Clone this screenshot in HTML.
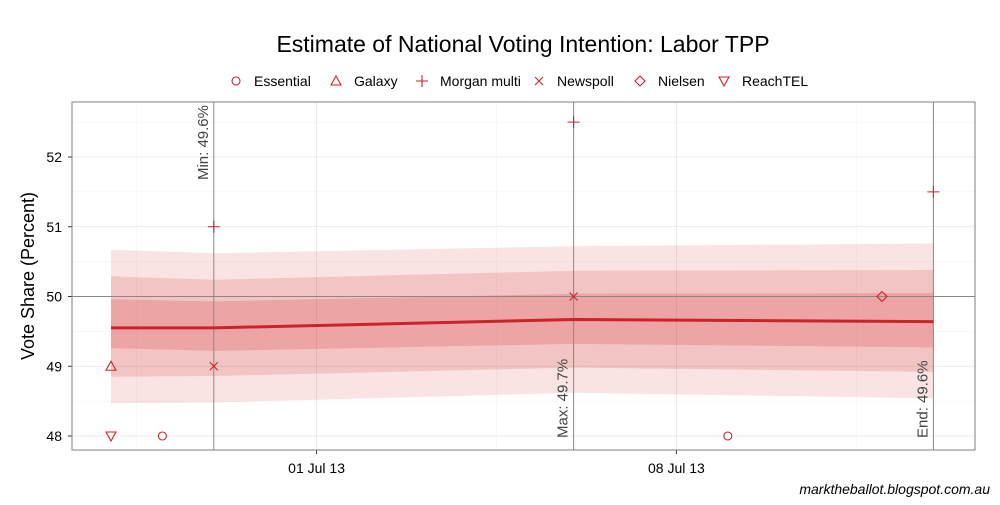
<!DOCTYPE html>
<html><head><meta charset="utf-8"><style>
body{margin:0;background:#fff;font-family:"Liberation Sans",sans-serif}
</style></head><body>
<svg id="c" width="1000" height="500" xmlns="http://www.w3.org/2000/svg" font-family="Liberation Sans, sans-serif">
<text x="523" y="52" font-size="23" text-anchor="middle">Estimate of National Voting Intention: Labor TPP</text>
<g id="legend"></g>
<g id="plot"></g>
<text transform="translate(34,276) rotate(-90)" font-size="18" text-anchor="middle">Vote Share (Percent)</text>
<text x="990" y="494" font-size="14" font-style="italic" text-anchor="end">marktheballot.blogspot.com.au</text>
</svg>
<script>
const yTicks=[48,49,50,51,52];
const xTickDays=[4,11]; // days after 27 Jun
const xTickLabels=["01 Jul 13","08 Jul 13"];
const houses=["Essential","Galaxy","Morgan multi","Newspoll","Nielsen","ReachTEL"];
const pollHouse=["Galaxy","ReachTEL","Essential","Morgan multi","Newspoll","Morgan multi","Newspoll","Essential","Nielsen","Morgan multi"];
const pollDay=[0,0,1,2,2,9,9,12,15,16];
const pollValue=[49,48,48,51,49,52.5,50,48,50,51.5];
const lineDay=[0,2,9,16];
const lineMid=[49.55,49.55,49.67,49.64];
const outerHi=[50.67,50.62,50.72,50.76];
const outerLo=[48.47,48.48,48.62,48.54];
const midHi=[50.29,50.24,50.37,50.38];
const midLo=[48.85,48.86,48.98,48.92];
const innerHi=[49.96,49.93,50.04,50.05];
const innerLo=[49.26,49.22,49.32,49.27];
const markers=[{day:2,label:"Min: 49.6%",up:true},{day:9,label:"Max: 49.7%",up:false},{day:16,label:"End: 49.6%",up:false}];
const NS="http://www.w3.org/2000/svg";
const L=72,R=975,T=102,B=450;
const X=d=>111+d*51.4, Y=v=>296.5-(v-50)*69.75;
const plot=document.getElementById('plot');
const RED='#cc2229';
function mk(tag,at,parent){const e=document.createElementNS(NS,tag);for(const k in at)e.setAttribute(k,at[k]);(parent||plot).appendChild(e);return e;}
const bg=mk('rect',{x:L,y:T,width:R-L,height:B-T,fill:'#fff',stroke:'none'});


for(let v=47.5;v<=52.5;v+=1){if(Y(v)>T&&Y(v)<B){const g=mk('line',{x1:L,x2:R,y1:Y(v),y2:Y(v),stroke:'#f2f2f2','stroke-width':0.6});}}
[0.5,7.5,14.5].forEach(d=>{const g=mk('line',{x1:X(d),x2:X(d),y1:T,y2:B,stroke:'#f2f2f2','stroke-width':0.6});});
yTicks.forEach(v=>{const g=mk('line',{x1:L,x2:R,y1:Y(v),y2:Y(v),stroke:'#e5e5e5','stroke-width':0.8});
const t=mk('text',{x:L-10,y:Y(v)+5,'font-size':14,'text-anchor':'end'});t.textContent=v;
mk('line',{x1:L-4,x2:L,y1:Y(v),y2:Y(v),stroke:'#333'});});
xTickDays.forEach((d,i)=>{const g=mk('line',{x1:X(d),x2:X(d),y1:T,y2:B,stroke:'#e5e5e5','stroke-width':0.8});
mk('line',{x1:X(d),x2:X(d),y1:B,y2:B+4,stroke:'#333'});
const t=mk('text',{x:X(d),y:B+23,'font-size':14,'text-anchor':'middle'});t.textContent=xTickLabels[i];});
function band(hi,lo,name,op){let d='M'+lineDay.map((dd,i)=>X(dd)+','+Y(hi[i])).join('L');for(let i=lineDay.length-1;i>=0;i--)d+='L'+X(lineDay[i])+','+Y(lo[i]);d+='Z';
const p=mk('path',{d,fill:'#d62728','fill-opacity':op});}
band(outerHi,outerLo,'band-95',0.13);band(midHi,midLo,'band-80',0.16);band(innerHi,innerLo,'band-50',0.2);
const hl=mk('line',{x1:L,x2:R,y1:Y(50),y2:Y(50),stroke:'#888','stroke-width':1});
markers.forEach(m=>{const l=mk('line',{x1:X(m.day),x2:X(m.day),y1:T,y2:B,stroke:'#888','stroke-width':1});
const ty=m.up?T+3:B-12;const t=mk('text',{transform:`translate(${X(m.day)-6},${ty}) rotate(-90)`,'font-size':15,fill:'#444','text-anchor':m.up?'end':'start'});t.textContent=m.label;});
const ln=mk('path',{d:'M'+lineDay.map((d,i)=>X(d)+','+Y(lineMid[i])).join('L'),fill:'none',stroke:RED,'stroke-width':3});

function shape(h,x,y,par){const s={fill:'none',stroke:RED,'stroke-width':1.1};let e;
if(h==='Essential')e=mk('circle',Object.assign({cx:x,cy:y,r:4},s),par);
else if(h==='Galaxy')e=mk('path',Object.assign({d:`M${x},${y-5}L${x+5},${y+4}L${x-5},${y+4}Z`},s),par);
else if(h==='Morgan multi')e=mk('path',Object.assign({d:`M${x-6},${y}H${x+6}M${x},${y-6}V${y+6}`},s),par);
else if(h==='Newspoll')e=mk('path',Object.assign({d:`M${x-4},${y-4}L${x+4},${y+4}M${x-4},${y+4}L${x+4},${y-4}`},s),par);
else if(h==='Nielsen')e=mk('path',Object.assign({d:`M${x},${y-5}L${x+5},${y}L${x},${y+5}L${x-5},${y}Z`},s),par);
else e=mk('path',Object.assign({d:`M${x},${y+5}L${x+5},${y-4}L${x-5},${y-4}Z`},s),par);return e;}
pollValue.forEach((v,i)=>{const e=shape(pollHouse[i],X(pollDay[i]),Y(v));});
const br=mk('rect',{x:L,y:T,width:R-L,height:B-T,fill:'none',stroke:'#7f7f7f','stroke-width':1});
const lg=document.getElementById('legend');const lx=[236,336,422,539,640,724];
houses.forEach((h,i)=>{const g=mk('g',{},lg);
shape(h,lx[i],81,g);const t=mk('text',{x:lx[i]+18,y:86,'font-size':14},g);t.textContent=h;});
</script>
</body></html>
